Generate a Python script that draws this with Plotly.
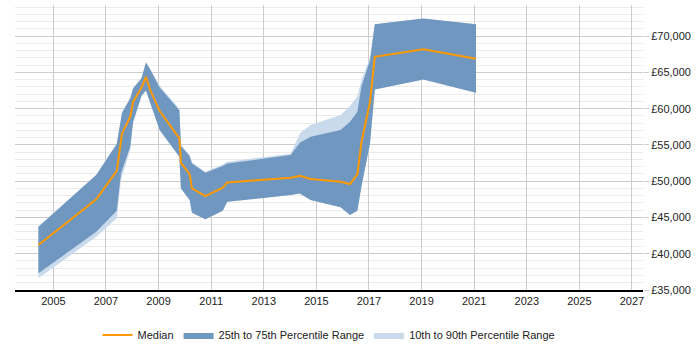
import plotly.graph_objects as go

years = [2004.43, 2006.63, 2007.41, 2007.57, 2007.61, 2007.92, 2008.03, 2008.35, 2008.52, 2008.68,
         2009.04, 2009.79, 2009.85, 2010.18, 2010.27, 2010.78, 2011.44, 2011.61, 2012.49, 2014.02,
         2014.37, 2014.78, 2015.92, 2016.28, 2016.56, 2016.71, 2017.04, 2017.22, 2019.07, 2021.07]

median = [41200, 47500, 51440, 55500, 56590, 58880, 60950, 62930, 64400, 62600,
          59670, 55900, 52540, 50980, 49010, 47950, 49100, 49840, 50060, 50480,
          50750, 50300, 49920, 49610, 50980, 55300, 60950, 67150, 68210, 66900]

p75 = [43720, 50850, 55120, 58800, 59430, 61410, 62790, 64170, 66380, 65410,
       62930, 59800, 54840, 53470, 52460, 51170, 52100, 52460, 52910, 53600,
       55300, 56130, 57050, 58190, 59570, 63020, 66690, 71650, 72440, 71650]

p25 = [37300, 43030, 45930, 51080, 51600, 54750, 58190, 61800, 62500, 61000,
       57050, 53370, 49010, 47400, 45650, 44740, 45930, 47170, 47500, 48090,
       48320, 47400, 46400, 45340, 45930, 49240, 55220, 62660, 64030, 62190]

p90 = [43720, 50900, 55200, 58900, 59500, 61500, 62900, 64300, 66400, 65500,
       63150, 60000, 55000, 53600, 52600, 51300, 52300, 52700, 53100, 53800,
       56590, 57740, 59120, 60360, 61730, 63940, 67070, 71650, 72440, 71650]

p10 = [36610, 42340, 44880, 50160, 50800, 54300, 57900, 61700, 62500, 61000,
       57050, 53370, 49010, 47400, 45650, 44740, 45930, 47170, 47500, 48090,
       48320, 47400, 46400, 45340, 45930, 49240, 55220, 62660, 64030, 62190]

x_ticks = list(range(2005, 2028, 2))

fig = go.Figure()

fig.add_trace(go.Scatter(
    x=years + years[::-1], y=p90 + p10[::-1],
    fill="toself", fillcolor="#C9DAEC", line=dict(width=0),
    mode="lines", name="10th to 90th Percentile Range", legendrank=3,
    hoverinfo="skip"))

fig.add_trace(go.Scatter(
    x=years + years[::-1], y=p75 + p25[::-1],
    fill="toself", fillcolor="#6F97BF", line=dict(width=0),
    mode="lines", name="25th to 75th Percentile Range", legendrank=2,
    hoverinfo="skip"))

fig.add_trace(go.Scatter(
    x=years, y=median, mode="lines",
    line=dict(color="#FF9900", width=2), name="Median", legendrank=1))

fig.update_layout(
    width=700, height=350,
    margin=dict(l=15, r=57, t=5, b=60, autoexpand=False),
    paper_bgcolor="white", plot_bgcolor="white",
    font=dict(family="Liberation Sans, Arial, sans-serif", size=11, color="#222"),
    showlegend=True,
    legend=dict(orientation="h", x=0.5, xanchor="center", y=-0.158, yanchor="middle",
                font=dict(size=11, color="#222"), traceorder="normal",
                itemwidth=30),
    xaxis=dict(range=[2003.54, 2027.42], tickvals=x_ticks, ticktext=[str(v) for v in x_ticks],
               showgrid=True, gridcolor="#CCCCCC", gridwidth=1,
               showline=True, linecolor="#000", linewidth=1.5,
               zeroline=False, ticks="", fixedrange=True,
               tickfont=dict(size=11, color="#222")),
    yaxis=dict(range=[35000, 74300], side="right", dtick=5000, tick0=35000,
               tickprefix="£", tickformat=",d",
               showgrid=True, gridcolor="#CCCCCC", gridwidth=1,
               minor=dict(dtick=1000, showgrid=True, gridcolor="#EBEBEB", gridwidth=1),
               zeroline=False, ticks="outside", ticklen=5, tickcolor="#CCCCCC",
               showline=False, fixedrange=True,
               tickfont=dict(size=11, color="#222")),
)

fig.write_html("out.html")
